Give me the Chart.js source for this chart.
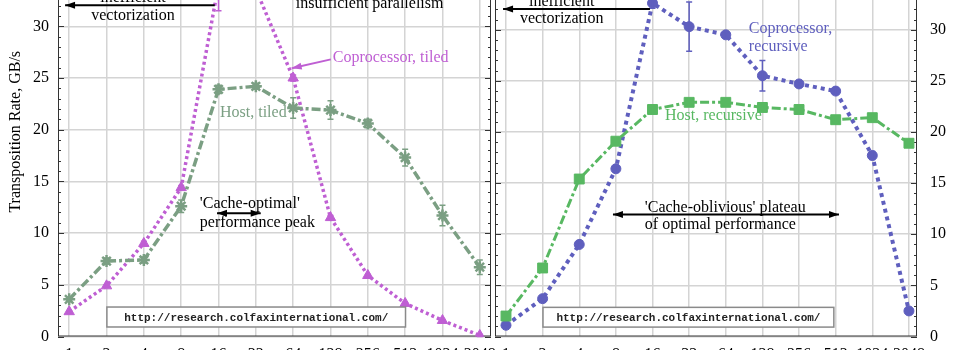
<!DOCTYPE html>
<html>
<head>
<meta charset="utf-8">
<script src="https://cdn.jsdelivr.net/npm/chart.js@4"></script>
<style>
  html, body { margin: 0; padding: 0; background: #fff; }
  #wrap { position: relative; width: 960px; height: 350px; overflow: hidden; }
  canvas { position: absolute; top: -44px; }
  #tiled { left: 0; }
  #recursive { left: 460px; }
</style>
</head>
<body>
<div id="wrap">
  <canvas id="tiled" width="520" height="420"></canvas>
  <canvas id="recursive" width="500" height="420"></canvas>
</div>
<script>
// matrix size (x axis categories)
const sizes = ['1', '2', '4', '8', '16', '32', '64', '128', '256', '512', '1024', '2048'];

// tiled transposition, GB/s
const hostTiled = [3.6, 7.3, 7.4, 12.6, 23.9, 24.2, 22.1, 21.9, 20.6, 17.3, 11.7, 6.7];
const hostTiledErr = [0.2, 0.3, 0.3, 0.6, 0.4, 0.3, 1.0, 0.9, 0.4, 0.8, 1.0, 0.7];
const copTiled = [2.4, 4.9, 9.0, 14.4, 34.0, 33.6, 25.0, 11.5, 5.9, 3.2, 1.55, 0.1];
const copTiledErr = [0.1, 0.1, 0.2, 0.2, 2.5, 0.5, 0.3, 0.2, 0.1, 0.1, 0.1, 0.1];

// recursive transposition, GB/s
const hostRec = [2.0, 6.7, 15.4, 19.1, 22.2, 22.9, 22.9, 22.4, 22.2, 21.2, 21.4, 18.9];
const hostRecErr = [0.1, 0.2, 0.2, 0.2, 0.2, 0.2, 0.2, 0.2, 0.2, 0.2, 0.2, 0.2];
const copRec = [1.1, 3.7, 9.0, 16.4, 32.6, 30.3, 29.5, 25.5, 24.7, 24.0, 17.7, 2.5];
const copRecErr = [0.1, 0.2, 0.2, 0.3, 0.5, 2.4, 0.3, 1.5, 0.3, 0.3, 0.4, 0.2];

const SERIF = "'Liberation Serif', 'DejaVu Serif', serif";
const MONO = "'Liberation Mono', 'DejaVu Sans Mono', monospace";
Chart.defaults.font.family = SERIF;
Chart.defaults.font.size = 16;
Chart.defaults.color = '#000';

const C_HOST_T = '#7b9f83';
const C_COP_T = '#bf5fd3';
const C_HOST_R = '#58b862';
const C_COP_R = '#5f5fbe';

const pts = arr => arr.map((v, i) => ({ x: i, y: v }));

// frame, minor ticks, error bars and text notes
const extras = {
  id: 'extras',
  beforeDatasetsDraw(chart) {
    const { ctx, chartArea: a } = chart;
    const y = chart.scales.y;
    ctx.save();
    ctx.strokeStyle = '#333';
    ctx.lineWidth = 1;
    ctx.strokeRect(a.left + 0.5, a.top + 0.5, a.right - a.left - 1, a.bottom - a.top - 1);
    for (let v = 0; v <= 35; v++) {
      const py = Math.round(y.getPixelForValue(v)) + 0.5;
      const len = v % 5 === 0 ? 6 : 3;
      ctx.beginPath();
      ctx.moveTo(a.left, py); ctx.lineTo(a.left + len, py);
      ctx.moveTo(a.right, py); ctx.lineTo(a.right - len, py);
      ctx.stroke();
    }
    ctx.restore();
  },
  afterDatasetsDraw(chart, args, opts) {
    const { ctx } = chart;
    const xs = chart.scales.x, ys = chart.scales.y;
    const X = v => xs.getPixelForValue(v), Y = v => ys.getPixelForValue(v);
    ctx.save();
    // error bars
    (opts.errors || []).forEach((err, di) => {
      const ds = chart.data.datasets[di];
      ctx.strokeStyle = ds.borderColor;
      ctx.lineWidth = 1.5;
      err.forEach((e, i) => {
        const v = ds.data[i].y, px = X(i);
        const t = Y(v + e), b = Y(v - e);
        ctx.beginPath();
        ctx.moveTo(px, t); ctx.lineTo(px, b);
        ctx.moveTo(px - 3, t); ctx.lineTo(px + 3, t);
        ctx.moveTo(px - 3, b); ctx.lineTo(px + 3, b);
        ctx.stroke();
      });
    });
    // url boxes
    (opts.boxes || []).forEach(bx => {
      const l = X(bx.x0), r = X(bx.x1), t = Y(bx.y0), b = Y(bx.y1);
      ctx.fillStyle = '#fff';
      ctx.fillRect(l, t, r - l, b - t);
      ctx.strokeStyle = '#8a8a8a';
      ctx.lineWidth = 1.5;
      ctx.strokeRect(l, t, r - l, b - t);
      ctx.fillStyle = '#222';
      ctx.font = 'bold 11px ' + MONO;
      ctx.textAlign = 'center';
      ctx.textBaseline = 'middle';
      ctx.fillText(bx.text, (l + r) / 2, (t + b) / 2 + 1);
    });
    // arrows
    (opts.arrows || []).forEach(ar => {
      const x0 = X(ar.x0), y0 = Y(ar.y0), x1 = X(ar.x1), y1 = Y(ar.y1);
      ctx.strokeStyle = ar.color; ctx.fillStyle = ar.color;
      ctx.lineWidth = ar.width || 2;
      ctx.beginPath(); ctx.moveTo(x0, y0); ctx.lineTo(x1, y1); ctx.stroke();
      const heads = ar.both ? [[x1, y1, x0, y0], [x0, y0, x1, y1]] : [[x0, y0, x1, y1]];
      heads.forEach(([ax, ay, bx, by]) => {
        const ang = Math.atan2(by - ay, bx - ax);
        ctx.beginPath();
        ctx.moveTo(bx, by);
        ctx.lineTo(bx - 10 * Math.cos(ang) + 3.5 * Math.sin(ang), by - 10 * Math.sin(ang) - 3.5 * Math.cos(ang));
        ctx.lineTo(bx - 10 * Math.cos(ang) - 3.5 * Math.sin(ang), by - 10 * Math.sin(ang) + 3.5 * Math.cos(ang));
        ctx.closePath(); ctx.fill();
      });
    });
    // text notes
    ctx.font = '16px ' + SERIF;
    ctx.textBaseline = 'middle';
    (opts.notes || []).forEach(n => {
      ctx.fillStyle = n.color || '#000';
      ctx.textAlign = n.align || 'left';
      ctx.fillText(n.text, X(n.x), Y(n.y));
    });
    if (opts.yTitle) {
      ctx.fillStyle = '#000';
      ctx.textAlign = 'center';
      ctx.translate(16, Y(opts.yTitle.y));
      ctx.rotate(-Math.PI / 2);
      ctx.fillText(opts.yTitle.text, 0, 0);
    }
    ctx.restore();
  }
};

function makeChart(id, datasets, side, padding, yWidth, extra) {
  return new Chart(document.getElementById(id), {
    type: 'line',
    data: { datasets },
    plugins: [extras],
    options: {
      responsive: false,
      animation: false,
      layout: { padding },
      plugins: { legend: { display: false }, tooltip: { enabled: false }, extras: extra },
      scales: {
        x: {
          type: 'linear',
          min: -0.3,
          max: side === 'left' ? 11.3 : 11.22,
          afterBuildTicks: s => { s.ticks = sizes.map((_, i) => ({ value: i })); },
          afterFit: s => { s.height = 39.5; },
          ticks: { callback: v => sizes[v], autoSkip: false, maxRotation: 0, padding: 9 },
          grid: { color: '#d4d4d4', lineWidth: 1.5, drawTicks: false },
          border: { display: false }
        },
        y: {
          position: side,
          min: 0,
          max: 35,
          afterFit: s => { s.width = yWidth; },
          ticks: { stepSize: 5, padding: side === 'left' ? 9 : 13 },
          grid: { color: '#d4d4d4', lineWidth: 1.5, drawTicks: false },
          border: { display: false }
        }
      }
    }
  });
}

makeChart('tiled', [
  {
    data: pts(hostTiled), borderColor: C_HOST_T, backgroundColor: C_HOST_T,
    borderWidth: 3.5, borderDash: [9, 3, 3, 3], pointStyle: 'star',
    pointRadius: 6, pointBorderWidth: 2.5, tension: 0
  },
  {
    data: pts(copTiled), borderColor: C_COP_T, backgroundColor: C_COP_T,
    borderWidth: 3.5, borderDash: [3, 3], pointStyle: 'triangle',
    pointRadius: 6, pointBorderWidth: 1, tension: 0
  }
], 'left', { top: 10, right: 29, bottom: 0, left: 0 }, 58, {
  errors: [hostTiledErr, copTiledErr],
  boxes: [{ x0: 1.01, x1: 9.01, y0: 2.85, y1: 0.92, text: 'http://research.colfaxinternational.com/' }],
  arrows: [
    { x0: 3.9, y0: 32.03, x1: -0.11, y1: 32.03, color: '#000', width: 2 },
    { x0: 7.01, y0: 26.8, x1: 5.96, y1: 25.94, color: C_COP_T, width: 2 },
    { x0: 3.96, y0: 11.93, x1: 5.13, y1: 11.93, color: '#000', width: 2, both: true }
  ],
  notes: [
    { text: 'inefficient', x: 1.71, y: 32.75, align: 'center' },
    { text: 'vectorization', x: 1.71, y: 31.06, align: 'center' },
    { text: 'insufficient parallelism', x: 6.07, y: 32.2 },
    { text: 'Coprocessor, tiled', x: 7.06, y: 27.0, color: C_COP_T },
    { text: 'Host, tiled', x: 4.04, y: 21.6, color: C_HOST_T },
    { text: "'Cache-optimal'", x: 3.5, y: 12.8 },
    { text: 'performance peak', x: 3.5, y: 10.97 }
  ],
  yTitle: { text: 'Transposition Rate, GB/s', y: 19.8 }
});

makeChart('recursive', [
  {
    data: pts(hostRec), borderColor: C_HOST_R, backgroundColor: C_HOST_R,
    borderWidth: 3, borderDash: [9, 3, 3, 3], pointStyle: 'rect',
    pointRadius: 7, pointBorderWidth: 1, tension: 0
  },
  {
    data: pts(copRec), borderColor: C_COP_R, backgroundColor: C_COP_R,
    borderWidth: 4, borderDash: [4, 4], pointStyle: 'circle',
    pointRadius: 5, pointBorderWidth: 1, tension: 0
  }
], 'right', { top: 10, right: 0, bottom: 0, left: 35 }, 43, {
  errors: [hostRecErr, copRecErr],
  boxes: [{ x0: 1.01, x1: 8.95, y0: 2.85, y1: 0.92, text: 'http://research.colfaxinternational.com/' }],
  arrows: [
    { x0: 3.93, y0: 32.03, x1: -0.08, y1: 32.03, color: '#000', width: 2 },
    { x0: 2.92, y0: 11.93, x1: 9.09, y1: 11.93, color: '#000', width: 2, both: true }
  ],
  notes: [
    { text: 'inefficient', x: 1.52, y: 32.75, align: 'center' },
    { text: 'vectorization', x: 1.52, y: 31.06, align: 'center' },
    { text: 'Coprocessor,', x: 6.63, y: 30.1, color: C_COP_R },
    { text: 'recursive', x: 6.63, y: 28.36, color: C_COP_R },
    { text: 'Host, recursive', x: 4.34, y: 21.6, color: C_HOST_R },
    { text: "'Cache-oblivious' plateau", x: 3.79, y: 12.61 },
    { text: 'of optimal performance', x: 3.79, y: 10.97 }
  ]
});
</script>
</body>
</html>
